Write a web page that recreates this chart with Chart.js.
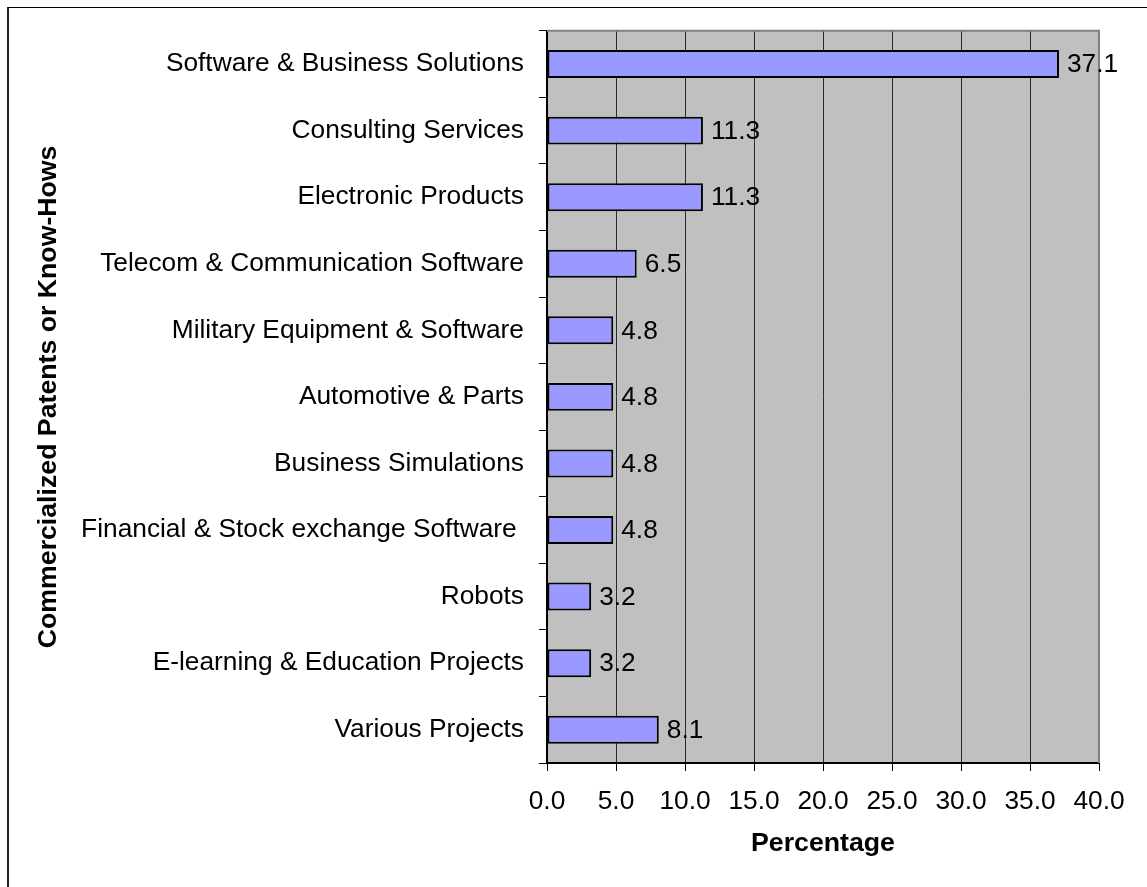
<!DOCTYPE html>
<html lang="en">
<head>
  <meta charset="UTF-8" />
  <title>Commercialized Patents or Know-Hows</title>
  <script src="https://cdn.jsdelivr.net/npm/chart.js"></script>
  <style>
    html, body { margin: 0; padding: 0; background: #fff; }
    #wrap { position: relative; width: 1147px; height: 887px; overflow: hidden; }
    #frame {
      position: absolute; left: 7px; top: 7px; width: 1200px; height: 950px;
      border-left: 2px solid #222; border-top: 1px solid #000; pointer-events: none;
    }
    canvas { position: absolute; left: 0; top: 0; }
  </style>
</head>
<body>
  <div id="wrap">
    <canvas id="chart" width="1147" height="887"></canvas>
    <div id="frame"></div>
  </div>

  <script>
    const categories = [
      'Software & Business Solutions',
      'Consulting Services',
      'Electronic Products',
      'Telecom & Communication Software',
      'Military Equipment & Software',
      'Automotive & Parts',
      'Business Simulations',
      'Financial & Stock exchange Software ',
      'Robots',
      'E-learning & Education Projects',
      'Various Projects'
    ];
    const percentages = [37.1, 11.3, 11.3, 6.5, 4.8, 4.8, 4.8, 4.8, 3.2, 3.2, 8.1];
    const xTicks = [0, 5, 10, 15, 20, 25, 30, 35, 40];

    const FONT = 'Liberation Sans, Arial, sans-serif';
    const SIZE = 26.3;

    // gray plot area with a thin gray frame on top and right
    const plotArea = {
      id: 'plotArea',
      beforeDraw(chart) {
        const { ctx, chartArea: a } = chart;
        ctx.save();
        ctx.fillStyle = '#c0c0c0';
        ctx.fillRect(a.left, a.top, a.right - a.left, a.bottom - a.top);
        ctx.restore();
      },
      beforeDatasetsDraw(chart) {
        const { ctx, chartArea: a } = chart;
        ctx.save();
        ctx.strokeStyle = '#808080';
        ctx.lineWidth = 2;
        ctx.beginPath();
        ctx.moveTo(a.left, a.top);
        ctx.lineTo(a.right, a.top);
        ctx.lineTo(a.right, a.bottom);
        ctx.stroke();
        ctx.restore();
      }
    };

    // value printed just past the end of each bar
    const valueLabels = {
      id: 'valueLabels',
      afterDatasetsDraw(chart) {
        const { ctx } = chart;
        const meta = chart.getDatasetMeta(0);
        ctx.save();
        ctx.font = SIZE + 'px ' + FONT;
        ctx.fillStyle = '#000';
        ctx.textAlign = 'left';
        ctx.textBaseline = 'middle';
        meta.data.forEach((bar, i) => {
          ctx.fillText(percentages[i].toFixed(1), bar.x + 8, bar.y + 1);
        });
        ctx.restore();
      }
    };

    new Chart(document.getElementById('chart'), {
      type: 'bar',
      data: {
        labels: categories,
        datasets: [{
          data: percentages,
          backgroundColor: '#9999ff',
          borderColor: '#000',
          borderWidth: 2,
          borderSkipped: false,
          categoryPercentage: 1,
          barPercentage: 0.42
        }]
      },
      options: {
        indexAxis: 'y',
        responsive: false,
        animation: false,
        layout: { padding: { top: 29, right: 48, left: 0, bottom: 0 } },
        plugins: { legend: { display: false }, tooltip: { enabled: false } },
        scales: {
          x: {
            min: 0,
            max: 40,
            afterBuildTicks(scale) { scale.ticks = xTicks.map(v => ({ value: v })); },
            afterFit(scale) { scale.height = 124; },
            ticks: {
              color: '#000',
              font: { family: FONT, size: SIZE },
              padding: 15,
              maxRotation: 0,
              callback: v => Number(v).toFixed(1)
            },
            grid: {
              color: ctx => (ctx.tick && ctx.tick.value === 40 ? '#808080' : '#2a2a2a'),
              tickColor: '#000',
              lineWidth: 1,
              tickLength: 8
            },
            border: { color: '#000', width: 2 },
            title: {
              display: true,
              text: 'Percentage',
              color: '#000',
              font: { family: FONT, size: 26.7, weight: 'bold' },
              padding: { top: 0, bottom: 27 }
            }
          },
          y: {
            afterFit(scale) { scale.width = 547; },
            ticks: {
              color: '#000',
              font: { family: FONT, size: SIZE },
              padding: 15,
              autoSkip: false
            },
            grid: {
              offset: true,
              drawOnChartArea: false,
              tickColor: '#000',
              tickLength: 8
            },
            border: { color: '#000', width: 2 },
            title: {
              display: true,
              text: 'Commercialized Patents or Know-Hows',
              color: '#000',
              font: { family: FONT, size: 26.7, weight: 'bold' },
              padding: { top: 33, bottom: 0 }
            }
          }
        }
      },
      plugins: [plotArea, valueLabels]
    });
  </script>
</body>
</html>
